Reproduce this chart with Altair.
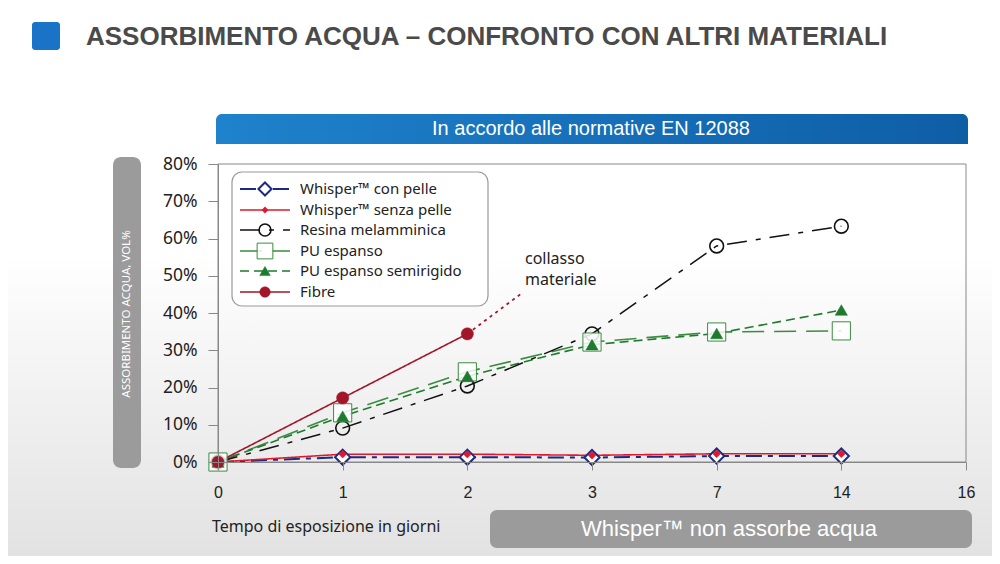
import json
import altair as alt
import pandas as pd

# ---------------- data ----------------
tick_labels = ["0", "1", "2", "3", "7", "14", "16"]
days = [0, 1, 2, 3, 7, 14]
series_names = ["Whisper™ con pelle", "Whisper™ senza pelle", "Resina melamminica",
                "PU espanso", "PU espanso semirigido", "Fibre"]
whisper_con = [0, 1.3, 1.3, 1.2, 1.6, 1.6]
whisper_senza = [0, 2.1, 2.1, 1.8, 2.2, 2.2]
resina = [0, 9.1, 20.4, 34.4, 58.0, 63.3]
pu_espanso = [0, 13.2, 24.2, 32.2, 34.9, 35.2]
pu_semirigido = [0, 12.3, 23.0, 31.5, 34.5, 40.8]
fibre_days = [0, 1, 2]
fibre = [0, 17.2, 34.4]
collapse_pos = [2, 2.44]
collapse_val = [34.4, 45.4]
y_ticks = [0, 10, 20, 30, 40, 50, 60, 70, 80]

W, H = 748, 298
PAD_L, PAD_T = 210, 156
SANS = "Noto Sans"

def frame(d_list, vals):
    return pd.DataFrame({"pos": [tick_labels.index(str(d)) for d in d_list], "val": vals})

df_con = frame(days, whisper_con)
df_senza = frame(days, whisper_senza)
df_res = frame(days, resina)
df_pu = frame(days, pu_espanso)
df_semi = frame(days, pu_semirigido)
df_fib = frame(fibre_days, fibre)
df_col = pd.DataFrame({"pos": collapse_pos, "val": collapse_val})
one = pd.DataFrame({"k": [0]})

label_arr = json.dumps(tick_labels)
X = alt.X("pos:Q", scale=alt.Scale(domain=[0, 6], nice=False),
          axis=alt.Axis(values=list(range(7)), labelExpr=f"{label_arr}[datum.value]",
                        title=None, grid=False, tickSize=8, labelPadding=14, zindex=1,
                        labelFlush=False, labelOverlap=False,
                        labelFontSize=16, labelFont="Liberation Sans", labelColor="#222",
                        domainColor="#888", tickColor="#888"))
Y = alt.Y("val:Q", scale=alt.Scale(domain=[0, 80], nice=False),
          axis=alt.Axis(values=y_ticks, labelExpr="datum.value + '%'", title=None, grid=False,
                        tickSize=10, labelPadding=11, labelFontSize=17.5, labelFont=SANS,
                        labelFlush=False, labelOverlap=False,
                        zindex=1, labelColor="#222", domainColor="#888", tickColor="#888"))

NAVY = "#1c2a80"
RED = "#e3172b"
BLACK = "#111111"
GREEN = "#3b8c3f"
DGREEN = "#1d7a2e"
FIB = "#a3162a"

styles = {
    "Whisper™ con pelle": dict(color=NAVY, dash=[16, 6, 5, 6], width=2),
    "Whisper™ senza pelle": dict(color=RED, dash=[1, 0], width=1.6),
    "Resina melamminica": dict(color=BLACK, dash=[20, 9, 5, 9], width=1.5),
    "PU espanso": dict(color=GREEN, dash=[22, 10], width=1.6),
    "PU espanso semirigido": dict(color=DGREEN, dash=[9, 5], width=1.6),
    "Fibre": dict(color=FIB, dash=[1, 0], width=1.6),
}

def line(df, name):
    s = styles[name]
    return alt.Chart(df).mark_line(color=s["color"], strokeDash=s["dash"],
                                   strokeWidth=s["width"]).encode(x=X, y=Y)

def marker_props(name):
    return {
        "Whisper™ con pelle": dict(shape="diamond", size=230, filled=True, fill="white",
                                   stroke=NAVY, strokeWidth=2),
        "Whisper™ senza pelle": dict(shape="diamond", size=60, filled=True, fill=RED,
                                     stroke=RED, strokeWidth=0.5),
        "Resina melamminica": dict(shape="circle", size=190, filled=False, stroke=BLACK,
                                   strokeWidth=1.6),
        "PU espanso": dict(shape="square", size=330, filled=True, fill="white",
                           fillOpacity=0.85, stroke=GREEN, strokeWidth=1),
        "PU espanso semirigido": dict(shape="triangle-up", size=150, filled=True,
                                      fill=DGREEN, stroke=DGREEN, strokeWidth=0.5),
        "Fibre": dict(shape="circle", size=150, filled=True, fill=FIB, stroke=FIB,
                      strokeWidth=0.5),
    }[name]

def pts(df, name):
    return alt.Chart(df).mark_point(opacity=1, **marker_props(name)).encode(x=X, y=Y)

def deco_rect(x, x2, y, y2, **kw):
    return alt.Chart(one).mark_rect(**kw).encode(
        x=alt.value(x), x2=alt.value(x2), y=alt.value(y), y2=alt.value(y2))

def deco_text(txt, x, y, **kw):
    return alt.Chart(one).mark_text(text=txt, **kw).encode(x=alt.value(x), y=alt.value(y))

# background
bg = deco_rect(-PAD_L, 1000 - 16 - PAD_L, -PAD_T, 548 - PAD_T,
               fill=alt.Gradient(gradient="linear",
                                 stops=[alt.GradientStop(color="#ffffff", offset=0),
                                        alt.GradientStop(color="#ffffff", offset=0.45),
                                        alt.GradientStop(color="#e2e2e2", offset=1)],
                                 x1=0, x2=0, y1=0, y2=1))
plot_frame = deco_rect(0, W, 0, H, fill="white", fillOpacity=0, stroke="#888", strokeWidth=1)

# header
blue_sq = deco_rect(32 - 8 - PAD_L, 60 - 8 - PAD_L, 22 - 8 - PAD_T, 50 - 8 - PAD_T,
                    fill="#1a73c6", cornerRadius=3)
title = deco_text("ASSORBIMENTO ACQUA – CONFRONTO CON ALTRI MATERIALI",
                  86 - 8 - PAD_L, 37 - 8 - PAD_T, align="left", baseline="middle",
                  font="Liberation Sans", fontSize=26, fontWeight="bold", color="#4a4a4a")
banner = deco_rect(216 - 8 - PAD_L, 968 - 8 - PAD_L, 114 - 8 - PAD_T, 144 - 8 - PAD_T,
                   fill=alt.Gradient(gradient="linear",
                                     stops=[alt.GradientStop(color="#1f82cc", offset=0),
                                            alt.GradientStop(color="#0e5ea6", offset=1)],
                                     x1=0, x2=1, y1=0, y2=0),
                   cornerRadiusTopLeft=6, cornerRadiusTopRight=6)
banner_txt = deco_text("In accordo alle normative EN 12088", 591 - 8 - PAD_L, 129 - 8 - PAD_T,
                       align="center", baseline="middle", font="Liberation Sans",
                       fontSize=20, color="white")

# y title box
ybox = deco_rect(113 - 8 - PAD_L, 141 - 8 - PAD_L, 157 - 8 - PAD_T, 468 - 8 - PAD_T,
                 fill="#9b9b9b", cornerRadius=8)
ytxt = deco_text("ASSORBIMENTO ACQUA, VOL%", 127 - 8 - PAD_L, 314 - 8 - PAD_T,
                 align="center", baseline="middle", angle=270, font=SANS,
                 fontSize=11.5, color="white")

# bottom
xtitle = deco_text("Tempo di esposizione in giorni", 212 - 8 - PAD_L, 527 - 8 - PAD_T,
                   align="left", baseline="middle", font=SANS, fontSize=16, color="#222")
gbox = deco_rect(490 - 8 - PAD_L, 972 - 8 - PAD_L, 510 - 8 - PAD_T, 548 - 8 - PAD_T,
                 fill="#9b9b9b", cornerRadius=7)
gtxt = deco_text("Whisper™ non assorbe acqua", 729 - 8 - PAD_L, 529 - 8 - PAD_T,
                 align="center", baseline="middle", font="Liberation Sans",
                 fontSize=22, color="white")

# collasso annotation
coll1 = deco_text("collasso", 525 - 8 - PAD_L, 259 - 8 - PAD_T, align="left",
                  baseline="middle", font=SANS, fontSize=16, color="#222")
coll2 = deco_text("materiale", 525 - 8 - PAD_L, 280 - 8 - PAD_T, align="left",
                  baseline="middle", font=SANS, fontSize=16, color="#222")

# legend
leg_box = deco_rect(232 - 8 - PAD_L, 488 - 8 - PAD_L, 172 - 8 - PAD_T, 306 - 8 - PAD_T,
                    fill="white", stroke="#9a9a9a", strokeWidth=1.2, cornerRadius=10)
leg_layers = [leg_box]
row_y = [189, 210, 230, 251, 271, 292]
for name, ry in zip(series_names, row_y):
    s = styles[name]
    yy = ry - 8 - PAD_T
    leg_layers.append(alt.Chart(one).mark_rule(color=s["color"], strokeDash=s["dash"],
                                               strokeWidth=s["width"]).encode(
        x=alt.value(240 - 8 - PAD_L), x2=alt.value(290 - 8 - PAD_L), y=alt.value(yy)))
    if name == "Whisper™ senza pelle":
        mp = dict(marker_props(name), size=40)
    else:
        mp = dict(marker_props(name))
        mp["size"] = mp["size"] * 0.75
    leg_layers.append(alt.Chart(one).mark_point(opacity=1, **mp).encode(
        x=alt.value(265 - 8 - PAD_L), y=alt.value(yy)))
    leg_layers.append(deco_text(name, 300 - 8 - PAD_L, yy, align="left", baseline="middle",
                                font=SANS, fontSize=15, color="#222"))

collapse_line = alt.Chart(df_col).mark_line(color=FIB, strokeDash=[3, 4],
                                            strokeWidth=1.8).encode(x=X, y=Y)

chart = alt.layer(
    bg, plot_frame, blue_sq, title, banner, banner_txt, ybox, ytxt, xtitle, gbox, gtxt,
    line(df_pu, "PU espanso"),
    line(df_semi, "PU espanso semirigido"),
    line(df_res, "Resina melamminica"),
    collapse_line,
    line(df_fib, "Fibre"),
    line(df_con, "Whisper™ con pelle"),
    line(df_senza, "Whisper™ senza pelle"),
    pts(df_con, "Whisper™ con pelle"),
    pts(df_senza, "Whisper™ senza pelle"),
    pts(df_res, "Resina melamminica"),
    pts(df_pu, "PU espanso"),
    pts(df_semi, "PU espanso semirigido"),
    pts(df_fib, "Fibre"),
    coll1, coll2,
    *leg_layers,
).properties(
    width=W, height=H,
    autosize=alt.AutoSizeParams(type="none"),
    padding={"left": PAD_L, "top": PAD_T, "right": 1000 - 16 - PAD_L - W,
             "bottom": 548 - PAD_T - H},
).configure_view(stroke="#888", strokeWidth=1)

chart.save("out.html", embed_options={"renderer": "svg", "actions": False})
